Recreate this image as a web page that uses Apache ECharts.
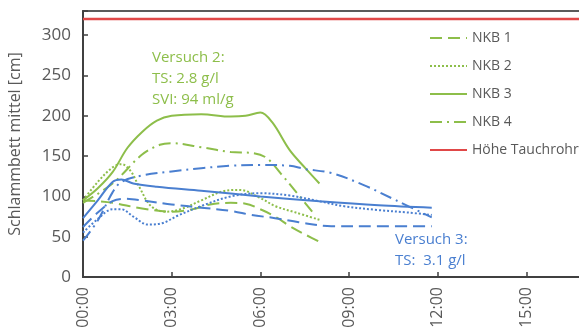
<!DOCTYPE html>
<html>
<head>
<meta charset="utf-8">
<script src="https://cdn.jsdelivr.net/npm/echarts@6/dist/echarts.min.js"></script>
<style>
  html, body { margin: 0; padding: 0; background: #fff; }
  #chart { width: 579px; height: 333px; }
</style>
</head>
<body>
<div id="chart"></div>
<script>
// Sludge blanket height (mean) over time, two test runs, four clarifiers each.
// Points are [hours since start, height in cm].

// Versuch 2 (green)
const v2_nkb1 = [[0,95],[0.5,94],[1,92],[2,85],[3,81],[3.7,84],[4.3,90],[5,92],[5.5,91],[6,84],[6.5,75],[7,63],[7.5,53],[8.1,42]];
const v2_nkb2 = [[0,95],[0.5,118],[1,136],[1.3,140],[1.6,132],[1.9,112],[2.3,88],[2.8,81],[3.3,84],[4,95],[4.7,106],[5.3,108],[6,98],[6.5,88],[7.2,80],[8,71]];
const v2_nkb3 = [[0,95],[0.5,110],[1,130],[1.5,160],[2,180],[2.5,194],[3,200],[4,202],[5,199],[5.5,200],[6,204],[6.4,192],[7,157],[7.5,136],[8,116]];
const v2_nkb4 = [[0,92],[1,116],[2,152],[2.6,164],[3,166],[4,161],[5,155],[5.7,154],[6.2,148],[6.7,128],[7.2,106],[7.8,79]];

// Versuch 3 (blue)
const v3_nkb1 = [[0,62],[0.5,80],[1,94],[1.4,97],[2,95],[3,90],[4,86],[5,82],[5.7,77],[6.5,73],[7.3,68],[8.4,63],[10,63],[11.8,63]];
const v3_nkb2 = [[0,55],[0.5,72],[1,84],[1.3,84],[1.7,75],[2.2,65],[2.7,67],[3.2,76],[4,88],[5,100],[6,104],[7,101],[8,94],[8.8,88],[10,83],[11,80],[11.8,77]];
const v3_nkb3 = [[0,73],[0.5,95],[1,118],[1.3,121],[1.7,116],[2.5,112],[4,107],[6,100],[8,94],[10,89],[11.8,86]];
const v3_nkb4 = [[0,45],[0.5,70],[1,105],[1.3,118],[2,126],[3,131],[4,135],[5,138],[6,139],[7,138],[7.5,134],[8.4,129],[9.5,114],[10.6,95],[11.8,74]];

// Immersion pipe height (constant)
const tauchrohr = [[0,320],[18,320]];

const legendNames = ['NKB 1', 'NKB 2', 'NKB 3', 'NKB 4', 'Höhe Tauchrohr'];
const yTicks = { min: 0, max: 330, interval: 50 };
const xTicks = { min: 0, max: 18, interval: 3 };

const GREEN = '#8DBE4A';
const BLUE = '#4A7FD0';
const RED = '#E04848';
const TEXT = '#595959';
const FONT = '"Open Sans", "Noto Sans", sans-serif';

const dash = {
  'NKB 1': [12, 6],
  'NKB 2': [2, 2],
  'NKB 3': 'solid',
  'NKB 4': [12, 5, 2, 5]
};

function lineSeries(name, data, color) {
  return {
    name: name,
    type: 'line',
    data: data,
    smooth: 0.35,
    symbol: 'none',
    lineStyle: { color: color, width: 2, type: dash[name] },
    itemStyle: { color: color },
    z: 3
  };
}

const series = [
  lineSeries('NKB 1', v2_nkb1, GREEN),
  lineSeries('NKB 2', v2_nkb2, GREEN),
  lineSeries('NKB 3', v2_nkb3, GREEN),
  lineSeries('NKB 4', v2_nkb4, GREEN),
  lineSeries('NKB 1', v3_nkb1, BLUE),
  lineSeries('NKB 2', v3_nkb2, BLUE),
  lineSeries('NKB 3', v3_nkb3, BLUE),
  lineSeries('NKB 4', v3_nkb4, BLUE),
  {
    name: 'Höhe Tauchrohr',
    type: 'line',
    data: tauchrohr,
    symbol: 'none',
    lineStyle: { color: RED, width: 2.5 },
    itemStyle: { color: RED },
    z: 2
  }
];

const chart = echarts.init(document.getElementById('chart'), null, { renderer: 'canvas' });
chart.setOption({
  animation: false,
  backgroundColor: '#ffffff',
  textStyle: { fontFamily: FONT },
  grid: {
    left: 83, top: 11, bottom: 56, right: -36,
    outerBoundsMode: 'none',
    containLabel: false,
    show: true, borderColor: '#262626', borderWidth: 1.5,
    backgroundColor: 'transparent'
  },
  legend: {
    data: legendNames,
    orient: 'vertical',
    left: 424,
    top: 26,
    itemWidth: 37,
    itemHeight: 14,
    itemGap: 14,
    itemStyle: { opacity: 0 },
    lineStyle: { opacity: 1 },
    textStyle: { color: TEXT, fontSize: 14, fontFamily: FONT }
  },
  xAxis: {
    type: 'value',
    min: xTicks.min, max: xTicks.max, interval: xTicks.interval,
    axisLine: { lineStyle: { color: '#404040', width: 2 } },
    axisTick: { inside: true, length: 5, lineStyle: { color: '#404040', width: 1.5 } },
    splitLine: { show: false },
    axisLabel: {
      rotate: 90,
      margin: 10,
      color: TEXT,
      fontSize: 16,
      fontFamily: FONT,
      formatter: function (h) { return (h < 10 ? '0' : '') + h + ':00'; }
    }
  },
  yAxis: {
    type: 'value',
    min: yTicks.min, max: yTicks.max, interval: yTicks.interval,
    name: 'Schlammbett mittel [cm]',
    nameLocation: 'middle',
    nameGap: 60,
    nameTextStyle: { color: TEXT, fontSize: 16, fontFamily: FONT },
    axisLine: { show: true, lineStyle: { color: '#404040', width: 2 } },
    axisTick: { show: true, inside: true, length: 5, lineStyle: { color: '#404040', width: 1.5 } },
    splitLine: { show: false },
    axisLabel: {
      margin: 12,
      color: TEXT,
      fontSize: 17,
      fontFamily: FONT,
      formatter: function (v) { return v > 300 ? '' : String(v); }
    }
  },
  graphic: [
    {
      type: 'text', left: 152, top: 47, z: 10,
      style: {
        text: 'Versuch 2:\nTS: 2.8 g/l\nSVI: 94 ml/g',
        fill: GREEN, font: '15px ' + FONT, lineHeight: 21
      }
    },
    {
      type: 'text', left: 395, top: 229, z: 10,
      style: {
        text: 'Versuch 3:\nTS:  3.1 g/l',
        fill: BLUE, font: '15px ' + FONT, lineHeight: 21
      }
    }
  ],
  series: series
});
</script>
</body>
</html>
